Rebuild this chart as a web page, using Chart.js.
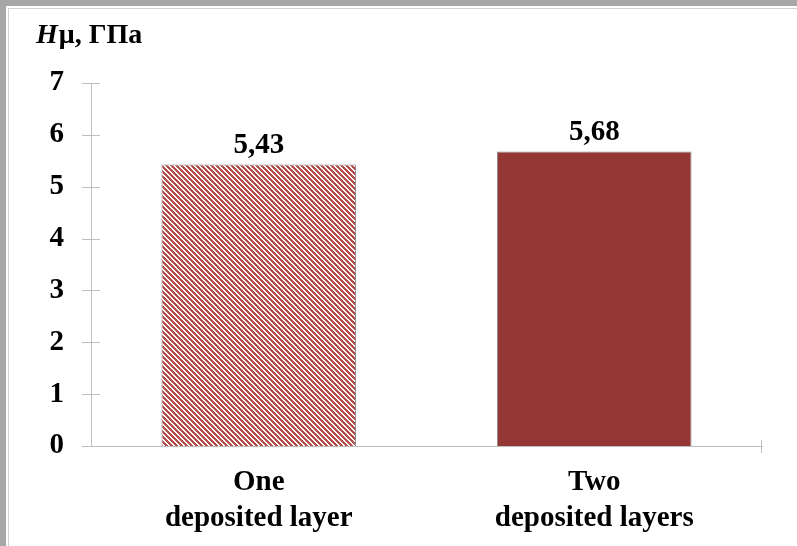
<!DOCTYPE html>
<html>
<head>
<meta charset="utf-8">
<script src="https://cdn.jsdelivr.net/npm/chart.js@4/dist/chart.umd.min.js"></script>
<style>
  html, body { margin: 0; padding: 0; }
  body { width: 797px; height: 546px; background: #a7a7a7; position: relative; overflow: hidden; }
  #sheet { position: absolute; left: 6px; top: 6px; right: 0; bottom: 0; background: #fff; }
  #sheetEdge { position: absolute; left: 8px; top: 8px; right: 0; bottom: 0; border-left: 1px solid #d2d2d2; border-top: 1px solid #d2d2d2; }
  #chart { position: absolute; left: 0; top: 0; }
</style>
</head>
<body>
<div id="sheet"></div>
<div id="sheetEdge"></div>
<canvas id="chart" width="797" height="546"></canvas>
<script>
// Microhardness of the coating for one and two deposited layers
const categories = [['One', 'deposited layer'], ['Two', 'deposited layers']];
const hardness = [5.43, 5.68];
const yMin = 0;
const yMax = 7;
const yStep = 1;
const axisTitleItalic = 'H';
const axisTitleRest = 'μ, ГПа';

const FONT = '"Liberation Serif", "Times New Roman", serif';
const AXIS_GRAY = '#bfbfbf';

// diagonal red/white hatching for the single-layer bar
function makeHatch() {
  const size = 5;
  const c = document.createElement('canvas');
  c.width = size; c.height = size;
  const g = c.getContext('2d');
  const img = g.createImageData(size, size);
  for (let y = 0; y < size; y++) {
    for (let x = 0; x < size; x++) {
      const k = ((x - y) % size + size) % size;
      const i = (y * size + x) * 4;
      if (k < 3) { img.data[i] = 0xb4; img.data[i + 1] = 0x4c; img.data[i + 2] = 0x4a; }
      else { img.data[i] = 255; img.data[i + 1] = 255; img.data[i + 2] = 255; }
      img.data[i + 3] = 255;
    }
  }
  g.putImageData(img, 0, 0);
  return document.getElementById('chart').getContext('2d').createPattern(c, 'repeat');
}

const decorations = {
  id: 'decorations',
  afterDraw(chart) {
    const ctx = chart.ctx;
    const ys = chart.scales.y;
    const area = chart.chartArea;
    ctx.save();
    // cross tick marks on the value axis
    ctx.strokeStyle = AXIS_GRAY;
    ctx.lineWidth = 1;
    ys.ticks.forEach(t => {
      const py = Math.round(ys.getPixelForValue(t.value)) + 0.5;
      ctx.beginPath();
      ctx.moveTo(area.left - 9, py);
      ctx.lineTo(area.left + 9, py);
      ctx.stroke();
    });
    // closing tick at the end of the category axis
    const ex = Math.round(area.right) - 0.5;
    ctx.beginPath();
    ctx.moveTo(ex, area.bottom - 6);
    ctx.lineTo(ex, area.bottom + 7);
    ctx.stroke();

    // value labels above the bars
    ctx.fillStyle = '#000';
    ctx.font = 'bold 29px ' + FONT;
    ctx.textAlign = 'center';
    ctx.textBaseline = 'alphabetic';
    const meta = chart.getDatasetMeta(0);
    meta.data.forEach((bar, i) => {
      const txt = hardness[i].toFixed(2).replace('.', ',');
      ctx.fillText(txt, bar.x, bar.y - 11);
    });

    // axis title: italic H followed by the unit
    ctx.textAlign = 'left';
    ctx.font = 'italic bold 28px ' + FONT;
    const x0 = 36, base = 43;
    ctx.fillText(axisTitleItalic, x0, base);
    const w = ctx.measureText(axisTitleItalic).width;
    ctx.font = 'bold 28px ' + FONT;
    ctx.fillText(axisTitleRest, x0 + w + 1, base);
    ctx.restore();
  }
};

new Chart(document.getElementById('chart'), {
  type: 'bar',
  data: {
    labels: categories,
    datasets: [{
      data: hardness,
      backgroundColor: [makeHatch(), '#943634'],
      borderColor: '#8c8c8c',
      borderWidth: 1,
      borderSkipped: 'bottom',
      barPercentage: 0.58,
      categoryPercentage: 1
    }]
  },
  options: {
    responsive: false,
    devicePixelRatio: 1,
    animation: false,
    layout: { padding: { left: 0, right: 35, top: 83, bottom: 0 } },
    plugins: { legend: { display: false }, tooltip: { enabled: false }, title: { display: false } },
    scales: {
      x: {
        grid: { display: false, drawTicks: false },
        border: { display: true, color: AXIS_GRAY, width: 1 },
        ticks: {
          color: '#000',
          font: { family: FONT, size: 29, weight: 'bold', lineHeight: 1.24 },
          padding: 19,
          maxRotation: 0,
          autoSkip: false
        },
        afterFit(s) { s.height = 100; }
      },
      y: {
        min: yMin,
        max: yMax,
        grid: { display: false, drawTicks: false },
        border: { display: true, color: AXIS_GRAY, width: 1 },
        ticks: {
          stepSize: yStep,
          color: '#000',
          font: { family: FONT, size: 29, weight: 'bold' },
          padding: 27
        },
        afterFit(s) { s.width = 91; }
      }
    }
  },
  plugins: [decorations]
});
</script>
</body>
</html>
